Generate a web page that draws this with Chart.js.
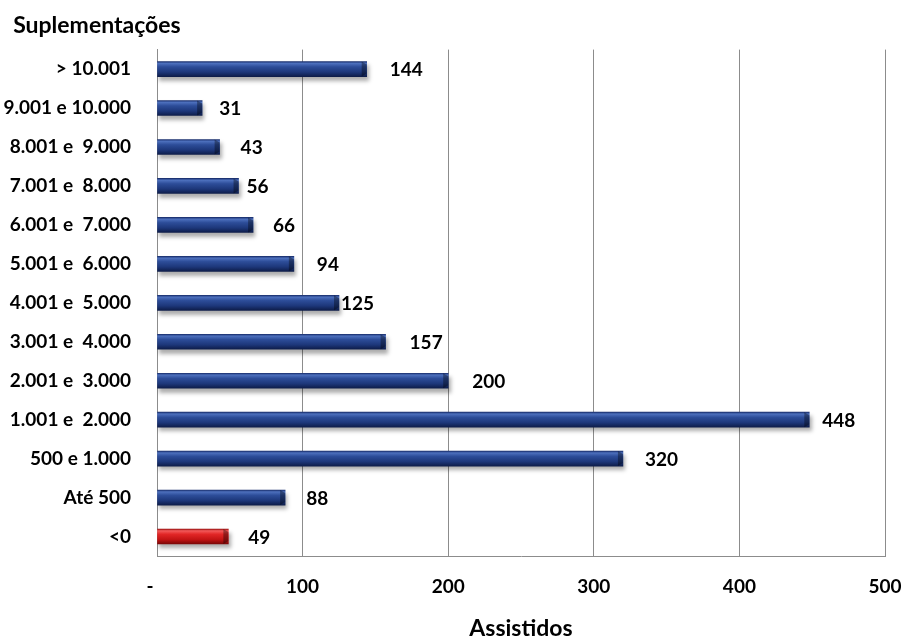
<!DOCTYPE html>
<html>
<head>
<meta charset="utf-8">
<script src="https://cdn.jsdelivr.net/npm/chart.js@4.4.0/dist/chart.umd.min.js"></script>
<style>
  html, body { margin: 0; padding: 0; background: #fff; }
  #wrap { width: 904px; height: 638px; }
</style>
</head>
<body>
<div id="wrap"><canvas id="chart" width="904" height="638"></canvas></div>
<script>
// faixas de suplementação (de cima para baixo) e número de assistidos
const faixas = ['> 10.001', '9.001 e 10.000', '8.001 e  9.000', '7.001 e  8.000', '6.001 e  7.000',
  '5.001 e  6.000', '4.001 e  5.000', '3.001 e  4.000', '2.001 e  3.000', '1.001 e  2.000',
  '500 e 1.000', 'Até 500', '<0'];
const assistidos = [144, 31, 43, 56, 66, 94, 125, 157, 200, 448, 320, 88, 49];
const xTicks = [0, 100, 200, 300, 400, 500];

// distância (px) entre o fim da barra e o rótulo
const labelGap = [23, 17, 21, 8, 20, 23, 2, 24, 24, 13, 22, 21, 20];

const FONT = 'Lato';
const GRID = '#8c8c8c';
const blueStops = [[0, '#1b3170'], [0.12, '#4d70bd'], [0.35, '#2d4d99'], [0.7, '#1d377a'], [1, '#0e1d4a']];
const redStops = [[0, '#9c1010'], [0.12, '#f25a5a'], [0.35, '#e22626'], [0.7, '#c21414'], [1, '#7a0707']];

function isNegative(i) { return faixas[i] === '<0'; }

// gradiente vertical + sombra nas barras
const bevelBars = {
  id: 'bevelBars',
  beforeDatasetDraw(chart) {
    const ctx = chart.ctx;
    chart.getDatasetMeta(0).data.forEach((bar, i) => {
      const top = bar.y - bar.height / 2;
      const g = ctx.createLinearGradient(0, top, 0, top + bar.height);
      (isNegative(i) ? redStops : blueStops).forEach(s => g.addColorStop(s[0], s[1]));
      bar.options = Object.assign({}, bar.options, { backgroundColor: g });
    });
    ctx.save();
    ctx.shadowColor = 'rgba(0,0,0,0.32)';
    ctx.shadowOffsetX = 2;
    ctx.shadowOffsetY = 4;
    ctx.shadowBlur = 4;
  },
  afterDatasetDraw(chart) {
    chart.ctx.restore();
  },
  afterDatasetsDraw(chart) {
    const ctx = chart.ctx;
    ctx.save();
    chart.getDatasetMeta(0).data.forEach((bar, i) => {
      const top = bar.y - bar.height / 2, bottom = bar.y + bar.height / 2;
      // chanfro escuro na ponta da barra
      ctx.fillStyle = 'rgba(0,0,0,0.35)';
      ctx.beginPath();
      ctx.moveTo(bar.x - 5, top);
      ctx.lineTo(bar.x, top + 3);
      ctx.lineTo(bar.x, bottom - 3);
      ctx.lineTo(bar.x - 5, bottom);
      ctx.closePath();
      ctx.fill();
      // rótulo do valor
      ctx.fillStyle = '#000';
      ctx.font = 'bold 19px ' + FONT;
      ctx.textAlign = 'left';
      ctx.textBaseline = 'middle';
      ctx.fillText(String(assistidos[i]), bar.x + labelGap[i], bar.y + 1);
    });
    ctx.restore();
  }
};

new Chart(document.getElementById('chart'), {
  type: 'bar',
  data: {
    labels: faixas,
    datasets: [{
      data: assistidos,
      backgroundColor: (c) => isNegative(c.dataIndex) ? '#d01818' : '#1f3a80',
      borderWidth: 0,
      barThickness: 15
    }]
  },
  options: {
    indexAxis: 'y',
    responsive: false,
    animation: false,
    layout: { padding: { left: 2, right: 19, top: 0, bottom: 0 } },
    plugins: {
      legend: { display: false },
      tooltip: { enabled: false },
      title: {
        display: true,
        text: '  Suplementações',
        align: 'start',
        color: '#000',
        font: { family: FONT, size: 23, weight: 'bold', lineHeight: 1.2 },
        padding: { top: 12, bottom: 10 }
      }
    },
    scales: {
      x: {
        min: 0,
        max: 500,
        afterBuildTicks: (axis) => { axis.ticks = xTicks.map(v => ({ value: v })); },
        afterFit: (axis) => {
          axis.height = 82;
          axis.paddingLeft = 0;
          axis.paddingRight = 0;
        },
        grid: { color: GRID, lineWidth: 1, drawTicks: false },
        border: { display: true, color: GRID, width: 1 },
        ticks: {
          color: '#000',
          padding: 19,
          font: { family: FONT, size: 19, weight: 'bold' },
          callback: (v) => v === 0 ? '-   ' : String(v)
        },
        title: {
          display: true,
          text: 'Assistidos',
          color: '#000',
          font: { family: FONT, size: 23, weight: 'bold', lineHeight: 0.8 },
          padding: { top: 0, bottom: 0 }
        }
      },
      y: {
        afterFit: (axis) => { axis.width = 155; },
        grid: { display: false, drawTicks: false },
        border: { display: true, color: GRID, width: 1 },
        ticks: {
          color: '#000',
          padding: 26,
          font: { family: FONT, size: 19, weight: 'bold' }
        }
      }
    }
  },
  plugins: [bevelBars]
});
</script>
</body>
</html>
